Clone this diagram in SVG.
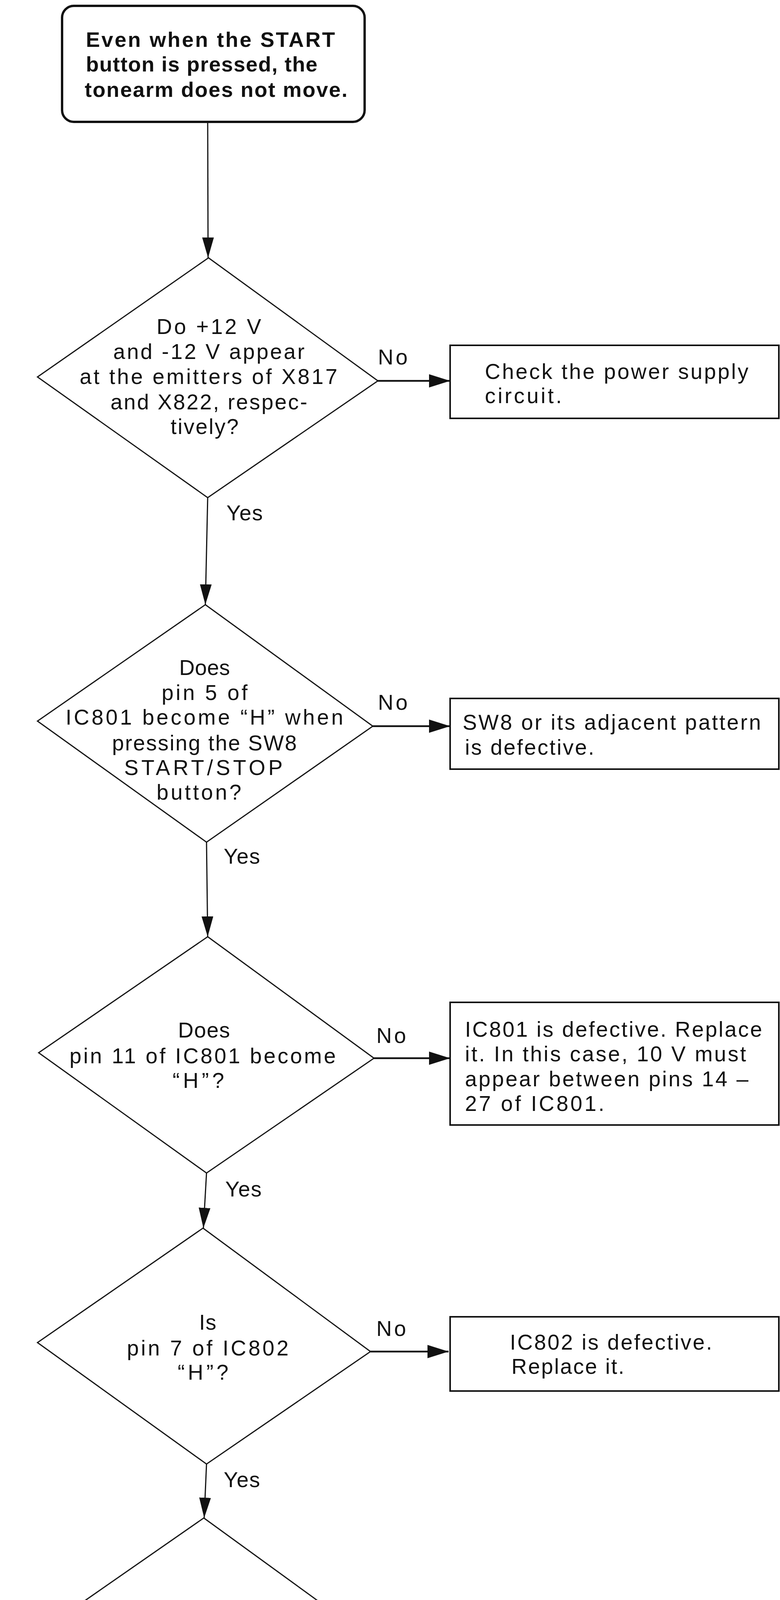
<svg xmlns="http://www.w3.org/2000/svg" width="1998" height="5071" viewBox="0 0 1998 5071">
<style>
  .bg{fill:#ffffff}
  .start{fill:#ffffff;stroke:#111;stroke-width:6}
  .dia{fill:#ffffff;stroke:#111;stroke-width:3}
  .box{fill:#ffffff;stroke:#111;stroke-width:4}
  .t{font-family:"Liberation Sans",Arial,sans-serif;font-size:55px;fill:#111}
  .tb{font-family:"Liberation Sans",Arial,sans-serif;font-size:54px;font-weight:bold;fill:#111}
  .tf{font-family:"Liberation Sans",Arial,sans-serif;font-size:59px;fill:#111}
  .v{fill:none;stroke:#111;stroke-width:3}
  .h{fill:none;stroke:#111;stroke-width:4.5}
</style>
<defs>
  <marker id="ahV" markerUnits="userSpaceOnUse" markerWidth="54" markerHeight="32" refX="52" refY="15" orient="auto">
    <path d="M0,0 L52,15 L0,30 Z" fill="#111"/>
  </marker>
  <marker id="ahH" markerUnits="userSpaceOnUse" markerWidth="56" markerHeight="36" refX="54" refY="17" orient="auto">
    <path d="M0,0 L54,17 L0,34 Z" fill="#111"/>
  </marker>
</defs>
<rect class="bg" x="0" y="0" width="1998" height="5071"/>

<g id="connectors">
  <line class="v" x1="532" y1="312" x2="533" y2="660" marker-end="url(#ahV)"/>
  <line class="v" x1="532" y1="1274" x2="526" y2="1548" marker-end="url(#ahV)"/>
  <line class="v" x1="529" y1="2156" x2="532" y2="2398" marker-end="url(#ahV)"/>
  <line class="v" x1="529" y1="3003" x2="521" y2="3144" marker-end="url(#ahV)"/>
  <line class="v" x1="529" y1="3748" x2="523" y2="3886" marker-end="url(#ahV)"/>
  <line class="v" x1="525" y1="4488" x2="524" y2="4790" marker-end="url(#ahV)"/>
  <line class="h" x1="968" y1="975" x2="1153" y2="975" marker-end="url(#ahH)"/>
  <line class="h" x1="955" y1="1859" x2="1153" y2="1859" marker-end="url(#ahH)"/>
  <line class="h" x1="958" y1="2709" x2="1153" y2="2709" marker-end="url(#ahH)"/>
  <line class="h" x1="949" y1="3460" x2="1149" y2="3460" marker-end="url(#ahH)"/>
  <line class="h" x1="949" y1="4196" x2="1149" y2="4196" marker-end="url(#ahH)"/>
  <text class="t" x="968" y="933" textLength="76">No</text>
  <text class="t" x="968" y="1817" textLength="76">No</text>
  <text class="t" x="964" y="2670" textLength="76">No</text>
  <text class="t" x="964" y="3420" textLength="76">No</text>
  <text class="t" x="962" y="4158" textLength="76">No</text>
  <text class="t" x="580" y="1332" textLength="93">Yes</text>
  <text class="t" x="573" y="2211" textLength="93">Yes</text>
  <text class="t" x="577" y="3063" textLength="93">Yes</text>
  <text class="t" x="573" y="3807" textLength="93">Yes</text>
  <text class="t" x="577" y="4548" textLength="93">Yes</text>
</g>

<g id="start">
  <rect class="start" x="159" y="15" width="775" height="297" rx="30" ry="30"/>
  <text class="tb" x="220" y="120" textLength="638">Even when the START</text>
  <text class="tb" x="220" y="183" textLength="593">button is pressed, the</text>
  <text class="tb" x="217" y="248" textLength="673">tonearm does not move.</text>
</g>

<g id="q1">
  <polygon class="dia" points="534,660 968,975 532,1274 96,965"/>
  <text class="t" x="401" y="855" textLength="268">Do +12 V</text>
  <text class="t" x="290" y="919" textLength="490">and -12 V appear</text>
  <text class="t" x="204" y="983" textLength="660">at the emitters of X817</text>
  <text class="t" x="283" y="1048" textLength="504">and X822, respec-</text>
  <text class="t" x="437" y="1111" textLength="174">tively?</text>
</g>

<g id="r1">
  <rect class="box" x="1153" y="884" width="842" height="187"/>
  <text class="t" x="1242" y="970" textLength="675">Check the power supply</text>
  <text class="t" x="1242" y="1032" textLength="197">circuit.</text>
</g>

<g id="q2">
  <polygon class="dia" points="526,1548 955,1859 529,2156 96,1846"/>
  <text class="t" x="459" y="1728" textLength="130">Does</text>
  <text class="t" x="414" y="1792" textLength="220">pin 5 of</text>
  <text class="t" x="168" y="1855" textLength="711">IC801 become “H” when</text>
  <text class="t" x="287" y="1921" textLength="473">pressing the SW8</text>
  <text class="t" x="318" y="1984" textLength="406">START/STOP</text>
  <text class="t" x="401" y="2047" textLength="217">button?</text>
</g>

<g id="r2">
  <rect class="box" x="1153" y="1788" width="842" height="181"/>
  <text class="t" x="1185" y="1868" textLength="764">SW8 or its adjacent pattern</text>
  <text class="t" x="1191" y="1932" textLength="331">is defective.</text>
</g>

<g id="q3">
  <polygon class="dia" points="532,2398 958,2709 529,3003 99,2695"/>
  <text class="t" x="456" y="2656" textLength="133">Does</text>
  <text class="t" x="178" y="2722" textLength="682">pin 11 of IC801 become</text>
  <text class="t" x="442" y="2785" textLength="132">“H”?</text>
</g>

<g id="r3">
  <rect class="box" x="1153" y="2566" width="842" height="314"/>
  <text class="t" x="1191" y="2654" textLength="761">IC801 is defective. Replace</text>
  <text class="t" x="1191" y="2717" textLength="720">it. In this case, 10 V must</text>
  <text class="t" x="1191" y="2781" textLength="726">appear between pins 14 –</text>
  <text class="t" x="1191" y="2844" textLength="357">27 of IC801.</text>
</g>

<g id="q4">
  <polygon class="dia" points="520,3144 949,3460 529,3748 96,3437"/>
  <text class="t" x="510" y="3404" textLength="44">Is</text>
  <text class="t" x="325" y="3470" textLength="414">pin 7 of IC802</text>
  <text class="t" x="455" y="3532" textLength="130">“H”?</text>
</g>

<g id="r4">
  <rect class="box" x="1153" y="3371" width="842" height="190"/>
  <text class="t" x="1306" y="3455" textLength="518">IC802 is defective.</text>
  <text class="t" x="1310" y="3517" textLength="289">Replace it.</text>
</g>

<g id="q5">
  <polygon class="dia" points="522,3886 949,4196 525,4488 96,4182"/>
  <text class="t" x="501" y="4148" textLength="44">Is</text>
  <text class="t" x="239" y="4212" textLength="564">the emitter of X804</text>
  <text class="t" x="446" y="4276" textLength="132">“H”?</text>
</g>

<g id="r5">
  <rect class="box" x="1153" y="4115" width="842" height="178"/>
  <text class="t" x="1191" y="4190" textLength="752">X804 or X805 is defective.</text>
  <text class="t" x="1191" y="4254" textLength="293">Replace it.</text>
</g>

<g id="end">
  <rect class="box" x="16" y="4790" width="1023" height="276"/>
  <text class="tf" x="105" y="4885" textLength="635">Motor E300763-002 is</text>
  <text class="tf" x="102" y="4950" textLength="842">defective. Or, connector J6 or</text>
  <text class="tf" x="105" y="5015" textLength="415">P6 is defective.</text>
</g>
</svg>
